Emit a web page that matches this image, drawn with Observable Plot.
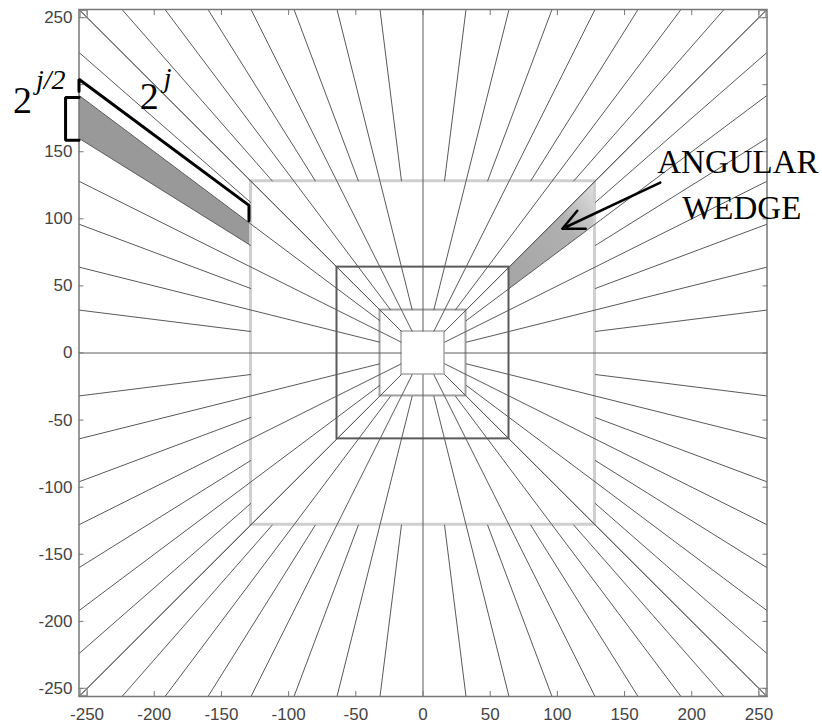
<!DOCTYPE html>
<html><head><meta charset="utf-8">
<script src="https://cdn.jsdelivr.net/npm/d3@7"></script>
<script src="https://cdn.jsdelivr.net/npm/@observablehq/plot@0.6"></script>
<style>html,body{margin:0;padding:0;background:#fff}</style>
</head><body><div id="chart"></div>
<script>
// ---- data ----
const tickValues = [-250, -200, -150, -100, -50, 0, 50, 100, 150, 200, 250];
// the left "200" label is hidden under the 2^{j/2} annotation in the reference
const yLabelValues = [-250, -200, -150, -100, -50, 0, 50, 100, 150, 250];
const squareHalfWidths = [16, 32, 64, 128];
const annulusInner = [16, 32, 64, 128];
const annulusOuter = [32, 64, 128, 256];
const wedgesPerSide = [4, 8, 8, 16];
// highlighted wedges: annulus index, side, edge range on the outer edge
const highlightAnnulus = [3, 2];
const highlightSide = ["left", "right"];
const highlightFrom = [160, 96];
const highlightTo = [192, 128];
const cornerMarks = [[-252.5, -252.5], [252.5, -252.5], [-252.5, 252.5], [252.5, 252.5]];
// annotations
const bracketJ = [[-256, 195], [-256, 204], [-129.5, 110], [-129.5, 98.5]];
const bracketHalf = [[-256, 190.5], [-266, 190.5], [-266, 158.5], [-256, 158.5]];
const arrowFrom = [176.6, 127];
const arrowTo = [103.7, 92.6];
const labelText = ["2", "j/2", "2", "j", "ANGULAR", "WEDGE"];
const labelX = [-305.2, -288, -210.8, -193, 174.3, 192.9];
const labelY = [178.5, 196.4, 182.2, 198.6, 133.8, 100.1];

// ---- geometry derived from the tiling description ----
const segments = [];
annulusInner.forEach((a, i) => {
  const b = annulusOuter[i], n = wedgesPerSide[i];
  for (let k = 0; k <= n; k++) {
    const t = -b + k * 2 * b / n, s = t * a / b;
    segments.push({x1: -b, y1: t, x2: -a, y2: s});
    segments.push({x1: b, y1: t, x2: a, y2: s});
    segments.push({x1: t, y1: -b, x2: s, y2: -a});
    segments.push({x1: t, y1: b, x2: s, y2: a});
  }
});
function wedgePoly(i) {
  const ai = highlightAnnulus[i], a = annulusInner[ai], b = annulusOuter[ai];
  const t0 = highlightFrom[i], t1 = highlightTo[i];
  const sx = highlightSide[i] === "left" ? -1 : 1;
  return [
    {x: sx * b, y: t0}, {x: sx * b, y: t1},
    {x: sx * a, y: t1 * a / b}, {x: sx * a, y: t0 * a / b}
  ];
}
const squares = squareHalfWidths.map((h, i) => ({i, x1: -h, x2: h, y1: -h, y2: h}));
const squareColor = ["#bdbdbd", "#a0a0a0", "#5a5a5a", "#cfcfcf"];
const squareWidth = [2, 2, 2, 3];
const labels = labelText.map((t, i) => ({t, x: labelX[i], y: labelY[i]}));
const lab = i => [labels[i]];

const serif = "'Liberation Serif', 'DejaVu Serif', serif";
const txt = (i, size, style) => Plot.text(lab(i), {x: "x", y: "y", text: "t", fontFamily: serif, fontSize: size, fontStyle: style || "normal", textAnchor: "start", lineAnchor: "bottom", fill: "#000"});

const plot = Plot.plot({
  width: 822, height: 726,
  marginLeft: 78.5, marginRight: 55.5, marginTop: 9, marginBottom: 30,
  x: {domain: [-256, 256], label: null},
  y: {domain: [-256, 256], label: null},
  style: {fontFamily: "'Liberation Sans', Arial, sans-serif", fontSize: "17px", background: "#fff", overflow: "visible"},
  marks: [
    Plot.line(wedgePoly(0), {x: "x", y: "y", fill: "#999999", stroke: "none"}),
    Plot.line(wedgePoly(1), {x: "x", y: "y", fill: "url(#wedgeGrad)", stroke: "none"}),
    ...squares.map(s => Plot.rect([s], {x1: "x1", x2: "x2", y1: "y1", y2: "y2", fill: "none", stroke: squareColor[s.i], strokeWidth: squareWidth[s.i]})),
    Plot.link(segments, {x1: "x1", y1: "y1", x2: "x2", y2: "y2", stroke: "#5a5a5a", strokeWidth: 1}),
    Plot.frame({stroke: "#777", strokeWidth: 1.5}),
    Plot.axisX({ticks: tickValues, anchor: "bottom", tickSize: -5, tickPadding: 16, stroke: "#777", fill: "#444", tickFormat: d => String(d), label: null}),
    Plot.axisX({ticks: tickValues, anchor: "top", tickSize: -5, stroke: "#777", fill: "none", label: null}),
    Plot.axisY({ticks: tickValues, anchor: "left", tickSize: -5, stroke: "#777", fill: "none", label: null}),
    Plot.axisY({ticks: yLabelValues, anchor: "left", tickSize: 0, tickPadding: 6.5, stroke: "none", fill: "#444", tickFormat: d => String(d), label: null}),
    Plot.axisY({ticks: tickValues, anchor: "right", tickSize: -5, stroke: "#777", fill: "none", label: null}),
    Plot.dot(cornerMarks, {x: d => d[0], y: d => d[1], symbol: "square", r: 4, stroke: "#888", fill: "none", strokeWidth: 1}),
    Plot.line(bracketJ, {x: d => d[0], y: d => d[1], stroke: "#000", strokeWidth: 3, strokeLinejoin: "miter"}),
    Plot.line(bracketHalf, {x: d => d[0], y: d => d[1], stroke: "#000", strokeWidth: 3, strokeLinejoin: "miter"}),
    Plot.arrow([0], {x1: () => arrowFrom[0], y1: () => arrowFrom[1], x2: () => arrowTo[0], y2: () => arrowTo[1], stroke: "#000", strokeWidth: 2.5, headLength: 14, headAngle: 50}),
    txt(0, 38),
    txt(1, 28, "italic"),
    txt(2, 38),
    txt(3, 28, "italic"),
    txt(4, 33),
    txt(5, 33)
  ]
});

// gradient for the right wedge
const svg = d3.select(plot);
const defs = svg.insert("defs", ":first-child");
const g = defs.append("linearGradient").attr("id", "wedgeGrad")
  .attr("x1", 0).attr("y1", 1).attr("x2", 1).attr("y2", 0);
g.append("stop").attr("offset", 0).attr("stop-color", "#a5a5a5");
g.append("stop").attr("offset", 0.62).attr("stop-color", "#b0b0b0");
g.append("stop").attr("offset", 1).attr("stop-color", "#e2e2e2");
document.getElementById("chart").appendChild(plot);
</script>
</body></html>
